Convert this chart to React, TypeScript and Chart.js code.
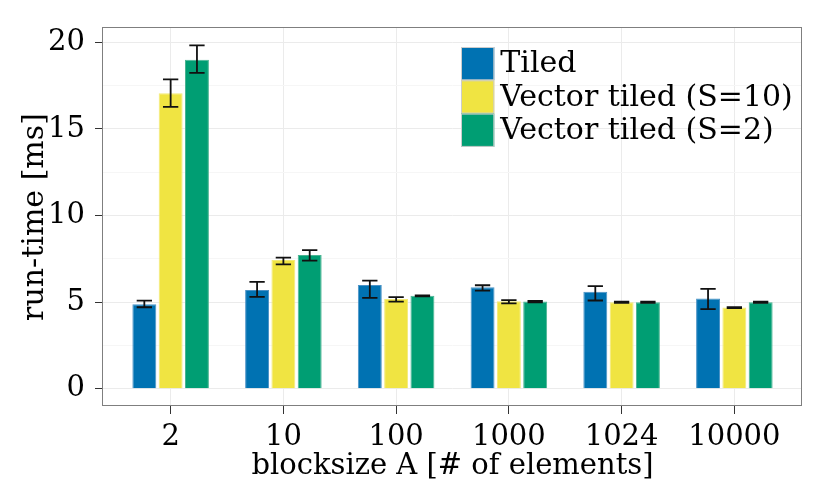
import { useEffect, useRef } from "react"
import { Chart, registerables } from "chart.js"

Chart.register(...registerables)

const categories = ["2", "10", "100", "1000", "1024", "10000"]
const seriesNames = ["Tiled", "Vector tiled (S=10)", "Vector tiled (S=2)"]
const seriesColors = ["#0072B2", "#F0E442", "#009E73"]
const seriesEdges = ["#4a92c6", "#f3ea78", "#4ab492"]

const tiled = [4.88, 5.71, 6.0, 5.87, 5.6, 5.21]
const tiledLow = [4.71, 5.31, 5.25, 5.67, 5.1, 4.6]
const tiledHigh = [5.09, 6.17, 6.25, 5.98, 5.93, 5.77]

const vecS10 = [17.07, 7.44, 5.18, 5.06, 5.0, 4.69]
const vecS10Low = [16.28, 7.19, 5.04, 4.93, 4.96, 4.66]
const vecS10High = [17.87, 7.57, 5.29, 5.12, 5.04, 4.71]

const vecS2 = [19.0, 7.73, 5.37, 5.04, 5.0, 5.0]
const vecS2Low = [18.24, 7.4, 5.34, 4.99, 4.97, 4.97]
const vecS2High = [19.83, 8.01, 5.4, 5.07, 5.03, 5.03]

const yTicks = [0, 2.5, 5, 7.5, 10, 12.5, 15, 17.5, 20]
const yMajor = [0, 5, 10, 15, 20]
const yMin = -0.99
const yMax = 20.83

const means = [tiled, vecS10, vecS2]
const lows = [tiledLow, vecS10Low, vecS2Low]
const highs = [tiledHigh, vecS10High, vecS2High]

const FONT = "'DejaVu Serif', serif"

const errorBars = {
  id: "errorBars",
  afterDatasetsDraw(chart: any) {
    const ctx = chart.ctx
    const y = chart.scales.y
    ctx.save()
    ctx.strokeStyle = "#111111"
    ctx.lineWidth = 1.8
    chart.data.datasets.forEach((_: any, d: number) => {
      const meta = chart.getDatasetMeta(d)
      meta.data.forEach((bar: any, i: number) => {
        const { x, width } = bar.getProps(["x", "width"], true)
        const top = y.getPixelForValue(highs[d][i])
        const bot = y.getPixelForValue(lows[d][i])
        const half = width * 0.32
        ctx.beginPath()
        ctx.moveTo(x, top)
        ctx.lineTo(x, bot)
        ctx.moveTo(x - half, top)
        ctx.lineTo(x + half, top)
        ctx.moveTo(x - half, bot)
        ctx.lineTo(x + half, bot)
        ctx.stroke()
      })
    })
    ctx.restore()
  },
}

// panel border + legend inside the panel
const panel = {
  id: "panel",
  afterDraw(chart: any) {
    const { ctx, chartArea: a } = chart
    ctx.save()
    ctx.strokeStyle = "#7f7f7f"
    ctx.lineWidth = 1
    ctx.strokeRect(a.left - 0.5, a.top - 0.5, a.right - a.left, a.bottom - a.top)

    const lx = a.left + 358
    const ly = a.top + 19
    const key = 33.3
    ctx.font = `30px ${FONT}`
    ctx.textBaseline = "middle"
    ctx.textAlign = "left"
    seriesNames.forEach((name, i) => {
      const top = ly + i * key
      ctx.fillStyle = seriesColors[i]
      ctx.fillRect(lx, top, key, key)
      ctx.strokeStyle = "#cccccc"
      ctx.strokeRect(lx + 0.5, top + 0.5, key - 1, key - 1)
      ctx.fillStyle = "#000000"
      ctx.fillText(name, lx + key + 6, top + key / 2 + 1)
    })
    ctx.restore()
  },
}

export default function App() {
  const chartRef = useRef<HTMLCanvasElement>(null)
  const chartInstance = useRef<Chart | null>(null)

  useEffect(() => {
    if (!chartRef.current) return
    if (chartInstance.current) chartInstance.current.destroy()
    const ctx = chartRef.current.getContext("2d")
    if (!ctx) return

    chartInstance.current = new Chart(ctx, {
      type: "bar",
      data: {
        datasets: means.map((vals, d) => ({
          label: seriesNames[d],
          data: vals.map((v, i) => ({ x: i, y: v })),
          backgroundColor: seriesColors[d],
          borderColor: seriesEdges[d],
          borderWidth: 1,
          categoryPercentage: 0.7,
          barPercentage: 0.91,
        })),
      },
      options: {
        responsive: true,
        maintainAspectRatio: false,
        animation: false,
        layout: { padding: { top: 28, right: 28, left: 0, bottom: 0 } },
        plugins: {
          legend: { display: false },
          tooltip: { enabled: false },
        },
        scales: {
          x: {
            type: "linear",
            min: -0.6,
            max: 5.6,
            offset: false,
            afterBuildTicks: (scale: any) => {
              scale.ticks = categories.map((_, i) => ({ value: i }))
            },
            afterFit: (scale: any) => {
              scale.height = 92
            },
            grid: {
              offset: false,
              color: "#ebebeb",
              tickColor: "#333333",
              tickLength: 8,
            },
            border: { display: false },
            ticks: {
              autoSkip: false,
              maxRotation: 0,
              padding: 6,
              color: "#000000",
              font: { family: FONT, size: 29 },
              callback: (value: any) => categories[value] ?? "",
            },
            title: {
              display: true,
              text: "blocksize A [# of elements]",
              color: "#000000",
              font: { family: FONT, size: 29 },
              padding: { top: 0, bottom: 14 },
            },
          },
          y: {
            min: yMin,
            max: yMax,
            afterBuildTicks: (scale: any) => {
              scale.ticks = yTicks.map((v) => ({ value: v }))
            },
            afterFit: (scale: any) => {
              scale.width = 103
            },
            grid: {
              color: (c: any) => (yMajor.includes(c.tick?.value) ? "#ebebeb" : "#f6f6f6"),
              tickColor: (c: any) => (yMajor.includes(c.tick?.value) ? "#333333" : "rgba(0,0,0,0)"),
              tickLength: 8,
            },
            border: { display: false },
            ticks: {
              padding: 10,
              color: "#000000",
              font: { family: FONT, size: 29 },
              callback: (value: any) => (yMajor.includes(value) ? String(value) : ""),
            },
            title: {
              display: true,
              text: "run-time [ms]",
              color: "#000000",
              font: { family: FONT, size: 30 },
              padding: { top: 17, bottom: 0 },
            },
          },
        },
      },
      plugins: [errorBars, panel],
    })

    return () => {
      if (chartInstance.current) {
        chartInstance.current.destroy()
        chartInstance.current = null
      }
    }
  }, [])

  return (
    <div style={{ position: "absolute", left: 0, top: 0, width: 830, height: 498, background: "#ffffff" }}>
      <canvas ref={chartRef} />
    </div>
  )
}
